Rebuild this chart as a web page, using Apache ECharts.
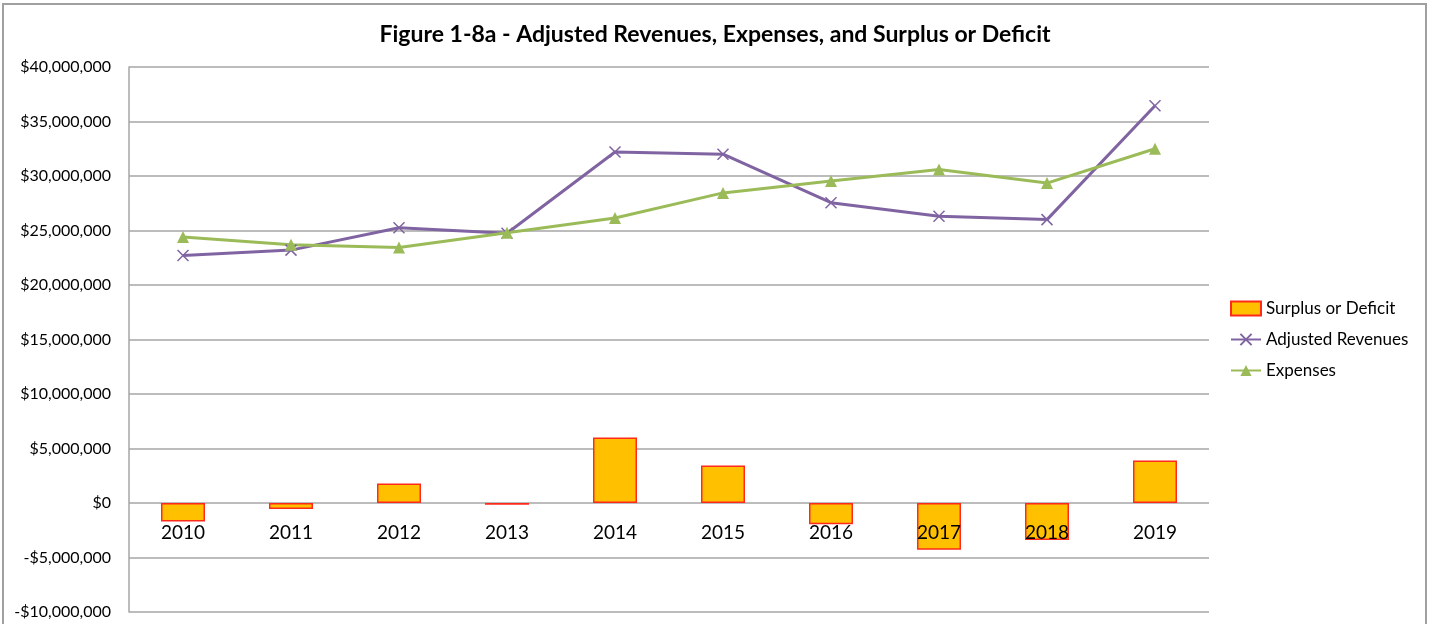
<!DOCTYPE html>
<html>
<head>
<meta charset="utf-8">
<title>Figure 1-8a</title>
<script src="https://cdn.jsdelivr.net/npm/echarts@6/dist/echarts.min.js"></script>
<style>
  html, body { margin: 0; padding: 0; background: #fff; }
  #chart { width: 1430px; height: 624px; }
</style>
</head>
<body>
<div id="chart"></div>
<script>
// fiscal years on the x axis
var years = ["2010", "2011", "2012", "2013", "2014", "2015", "2016", "2017", "2018", "2019"];
// values (dollars)
var surplus = [-1700000, -550000, 1800000, -150000, 6000000, 3450000, -1950000, -4300000, -3400000, 3900000];
var revenues = [22700000, 23200000, 25250000, 24750000, 32200000, 32000000, 27550000, 26300000, 26000000, 36450000];
var expenses = [24400000, 23700000, 23450000, 24800000, 26150000, 28450000, 29550000, 30600000, 29350000, 32500000];

var chart = echarts.init(document.getElementById("chart"));

function money(v) {
  var s = "$" + Math.abs(v).toLocaleString("en-US");
  return v < 0 ? "-" + s : s;
}

// plot area, px
var gridTop = 67, gridBottom = 12;
var yMin = -10000000, yMax = 40000000;
var plotH = 624 - gridTop - gridBottom;
// move the category axis up so its labels sit just under the $0 line
var zeroShift = Math.round(plotH * (0 - yMin) / (yMax - yMin));

var option = {
  animation: false,
  textStyle: { fontFamily: "Lato" },
  title: {
    text: "Figure 1-8a - Adjusted Revenues, Expenses, and Surplus or Deficit",
    left: "center",
    top: 18,
    textStyle: { fontSize: 23, fontWeight: "bold", color: "#000", fontFamily: "Lato" }
  },
  graphic: [
    {
      type: "rect",
      shape: { x: 3, y: 4, width: 1423, height: 700 },
      style: { fill: "none", stroke: "#a0a0a0", lineWidth: 2 },
      silent: true
    }
  ],
  legend: {
    orient: "vertical",
    left: 1225,
    top: 295,
    itemWidth: 30,
    itemHeight: 14,
    itemGap: 14,
    textStyle: { fontSize: 17, color: "#000", fontFamily: "Lato" },
    data: [
      { name: "Surplus or Deficit", icon: "rect" },
      "Adjusted Revenues",
      "Expenses"
    ]
  },
  grid: { left: 129, right: 221, top: gridTop, bottom: gridBottom, outerBoundsMode: "none" },
  xAxis: {
    type: "category",
    data: years,
    z: 10,
    offset: -zeroShift,
    axisLine: { show: false, onZero: false },
    axisTick: { show: false },
    axisLabel: { fontSize: 19, color: "#000", margin: 20, fontFamily: "Lato" }
  },
  yAxis: {
    type: "value",
    min: yMin,
    max: yMax,
    interval: 5000000,
    axisLine: { show: true, lineStyle: { color: "#a6a6a6", width: 1.5 } },
    axisTick: { show: false },
    splitLine: { lineStyle: { color: "#a6a6a6", width: 1.5 } },
    axisLabel: { fontSize: 16, color: "#000", margin: 18, formatter: money, fontFamily: "Lato" }
  },
  series: [
    {
      name: "Surplus or Deficit",
      type: "bar",
      data: surplus,
      barWidth: 44,
      itemStyle: { color: "#FFC000", borderColor: "#FF2A1A", borderWidth: 1.5 }
    },
    {
      name: "Adjusted Revenues",
      type: "line",
      data: revenues,
      symbol: "path://M0,0 L10,10 M10,0 L0,10",
      symbolSize: 11,
      lineStyle: { color: "#8064A2", width: 3 },
      itemStyle: { color: "#8064A2", borderColor: "#8064A2", borderWidth: 1.5 }
    },
    {
      name: "Expenses",
      type: "line",
      data: expenses,
      symbol: "triangle",
      symbolSize: 12,
      lineStyle: { color: "#9BBB59", width: 3 },
      itemStyle: { color: "#9BBB59" }
    }
  ]
};

chart.setOption(option);
</script>
</body>
</html>
